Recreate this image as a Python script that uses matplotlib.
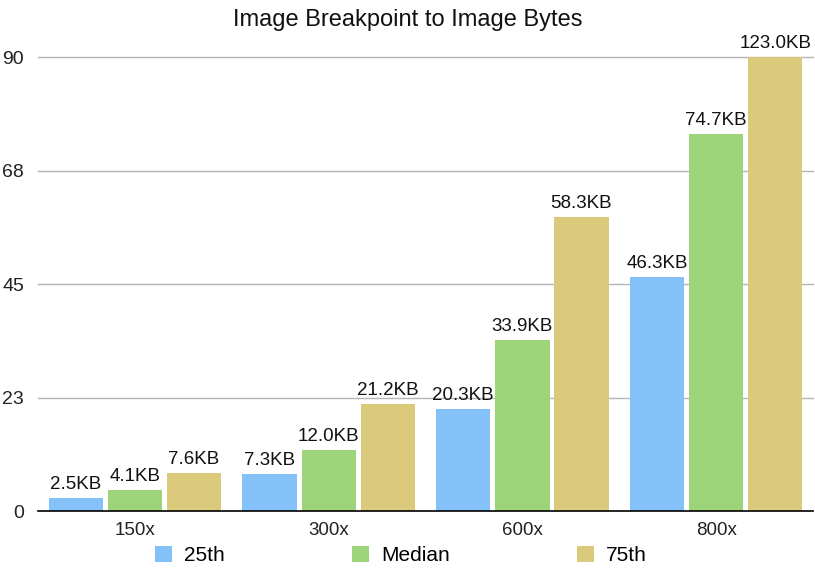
import numpy as np
import matplotlib.pyplot as plt

plt.rcParams['font.family'] = ['Liberation Sans', 'DejaVu Sans']

# data
breakpoints = ['150x', '300x', '600x', '800x']
series_names = ['25th', 'Median', '75th']
p25 = [2.5, 7.3, 20.3, 46.3]
median = [4.1, 12.0, 33.9, 74.7]
p75 = [7.6, 21.2, 58.3, 123.0]
y_ticks = [0, 22.5, 45, 67.5, 90]
y_tick_labels = ['0', '23', '45', '68', '90']

colors = ['#85c1f9', '#9dd47a', '#dbc97c']

fig = plt.figure(figsize=(8.15, 5.70), dpi=100)
ax = fig.add_axes([0.0466, 0.1035, 0.951, 0.7965])

x = np.arange(len(breakpoints))
step = 0.305
width = 0.28
ymax = 90

for i, (vals, name) in enumerate(zip([p25, median, p75], series_names)):
    pos = x + (i - 1) * step
    ax.bar(pos, vals, width, color=colors[i], label=name, zorder=3)
    # labels sit on top of the bar (bar is clipped at axis top)
    for xp, v in zip(pos, vals):
        ax.text(xp, min(v, ymax) + 1.0, '%.1fKB' % v, ha='center', va='bottom',
                fontsize=13.5, color='#111111', clip_on=False, zorder=4)

ax.set_xlim(-0.5, 3.5)
ax.set_ylim(0, ymax)
ax.set_yticks(y_ticks)
ax.set_yticklabels(y_tick_labels)
ax.set_xticks(x)
ax.set_xticklabels(breakpoints)
ax.tick_params(axis='y', length=0, pad=10, labelsize=14, colors='#222222')
ax.tick_params(axis='x', length=0, pad=8, labelsize=13.5, colors='#222222')

# gridlines
for t in y_ticks[1:]:
    ax.axhline(t, color='#b5b5b5', linewidth=1, zorder=1, clip_on=False)

for s in ['top', 'right', 'left']:
    ax.spines[s].set_visible(False)
ax.spines['bottom'].set_color('black')
ax.spines['bottom'].set_linewidth(1.2)
ax.spines['bottom'].set_zorder(5)

fig.text(0.5, 0.965, 'Image Breakpoint to Image Bytes', ha='center', va='center',
         fontsize=17, color='#111111')

fig.legend(loc='center', bbox_to_anchor=(0.492, 0.025), ncol=3, frameon=False,
           fontsize=15, handlelength=0.8, handleheight=0.8, handletextpad=0.6,
           columnspacing=6.1, borderaxespad=0, borderpad=0)

fig.savefig('out.png', dpi=100)
